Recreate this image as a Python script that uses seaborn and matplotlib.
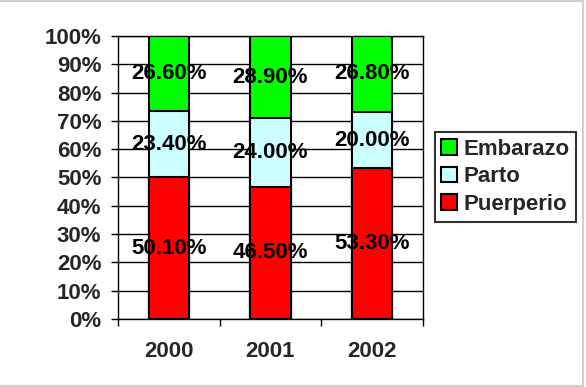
"""
Stacked 100% bar chart - Embarazo / Parto / Puerperio by year.
"""
import numpy as np
import pandas as pd
import matplotlib
matplotlib.use("Agg")
import matplotlib.pyplot as plt
from matplotlib.patches import Patch, Rectangle
from matplotlib.ticker import FixedLocator, PercentFormatter
import seaborn as sns

years = ["2000", "2001", "2002"]
puerperio = [50.10, 46.50, 53.30]
parto = [23.40, 24.00, 20.00]
embarazo = [26.60, 28.90, 26.80]

series_names = ["Embarazo", "Parto", "Puerperio"]
colors = {"Embarazo": "#00FF00", "Parto": "#CCFFFF", "Puerperio": "#FF0000"}

FS = 16

sns.set_theme(style="white")
plt.rcParams["font.family"] = ["Liberation Sans", "DejaVu Sans"]
plt.rcParams["font.weight"] = "bold"

# 100% stacked: normalise each year to its total
df = pd.DataFrame({"year": years, "Puerperio": puerperio,
                   "Parto": parto, "Embarazo": embarazo})
total = df[["Puerperio", "Parto", "Embarazo"]].sum(axis=1)
df["top_red"] = df["Puerperio"] / total * 100
df["top_cyan"] = (df["Puerperio"] + df["Parto"]) / total * 100
df["top_green"] = 100.0

fig = plt.figure(figsize=(5.86, 3.87), dpi=100)
ax = fig.add_axes([0.2014, 0.1757, 0.5204, 0.7313])

for col, name in [("top_green", "Embarazo"), ("top_cyan", "Parto"),
                  ("top_red", "Puerperio")]:
    sns.barplot(data=df, x="year", y=col, color=colors[name], width=0.4,
                saturation=1, edgecolor="black", linewidth=1.5, ax=ax,
                zorder=3)

# value labels at segment centres
for i, row in df.iterrows():
    segs = [(0, row["top_red"], puerperio[i]),
            (row["top_red"], row["top_cyan"], parto[i]),
            (row["top_cyan"], 100, embarazo[i])]
    for lo, hi, val in segs:
        ax.text(i, (lo + hi) / 2, f"{val:.2f}%", ha="center", va="center",
                fontsize=FS, fontweight="bold", color="black", zorder=5)

ax.set_xlim(-0.5, 2.5)
ax.set_ylim(0, 100)
ax.set_yticks(np.arange(0, 101, 10))
ax.yaxis.set_major_formatter(PercentFormatter(decimals=0))
ax.yaxis.grid(True, color="black", linewidth=1.0, zorder=0)
ax.set_axisbelow(True)
ax.set_xlabel("")
ax.set_ylabel("")

for s in ax.spines.values():
    s.set_color("black")
    s.set_linewidth(1.0)

ax.tick_params(axis="y", which="major", length=5, width=1, color="black",
               direction="out", left=True, pad=7, labelsize=FS)
ax.xaxis.set_minor_locator(FixedLocator([-0.5, 0.5, 1.5, 2.5]))
ax.tick_params(axis="x", which="minor", length=5, width=1, color="black",
               direction="out", bottom=True)
ax.tick_params(axis="x", which="major", length=0, pad=16, labelsize=FS)
for lbl in ax.get_xticklabels() + ax.get_yticklabels():
    lbl.set_fontweight("bold")

handles = [Patch(facecolor=colors[n], edgecolor="black", linewidth=1.5,
                 label=n) for n in series_names]
leg = ax.legend(handles=handles, loc="center left",
                bbox_to_anchor=(0.742, 0.543),
                bbox_transform=fig.transFigure, fontsize=FS, frameon=True,
                fancybox=False, handlelength=0.7, handleheight=0.7,
                handletextpad=0.3, labelspacing=0.3, borderpad=0.3,
                borderaxespad=0)
leg.get_frame().set_edgecolor("black")
leg.get_frame().set_linewidth(1.5)
for t in leg.get_texts():
    t.set_fontweight("bold")

# light grey frame around the chart
fig.add_artist(Rectangle((-0.01, 0.003), 1.005, 0.994,
                         transform=fig.transFigure, fill=False,
                         edgecolor="#d0d0d0", linewidth=1.5))

fig.savefig("out.png", dpi=100)
